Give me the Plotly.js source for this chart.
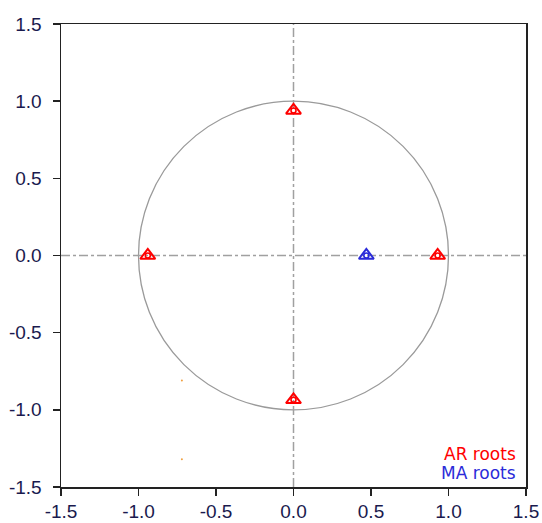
<!DOCTYPE html>
<html>
<head>
<meta charset="utf-8">
<script src="https://cdn.plot.ly/plotly-3.0.1.min.js"></script>
<style>html,body{margin:0;padding:0;background:#fff;}#chart{width:542px;height:523px;}</style>
</head>
<body>
<div id="chart"></div>
<script>
// Inverse roots
const arRootsX = [0.0, -0.94, 0.0, 0.93];
const arRootsY = [0.94, 0.0, -0.935, 0.0];
const maRootsX = [0.47];
const maRootsY = [0.0];
// two stray dots visible in the picture
const strayX = [-0.72, -0.72];
const strayY = [-0.81, -1.32];
const tickVals = [-1.5, -1.0, -0.5, 0.0, 0.5, 1.0, 1.5];
const tickText = ["-1.5", "-1.0", "-0.5", "0.0", "0.5", "1.0", "1.5"];
const seriesNames = ["AR roots", "MA roots"];
const seriesColors = ["#ff0000", "#2b2bd9"];

const traces = [
  {x: arRootsX, y: arRootsY, mode: 'markers', type: 'scatter', name: seriesNames[0],
   marker: {symbol: 'triangle-up-open', size: 13, color: seriesColors[0], line: {width: 2, color: seriesColors[0]}}},
  {x: arRootsX, y: arRootsY, mode: 'markers', type: 'scatter', showlegend: false, hoverinfo: 'skip',
   marker: {symbol: 'circle-open', size: 5, color: seriesColors[0], line: {width: 1.6, color: seriesColors[0]}}},
  {x: maRootsX, y: maRootsY, mode: 'markers', type: 'scatter', name: seriesNames[1],
   marker: {symbol: 'triangle-up-open', size: 13, color: seriesColors[1], line: {width: 2, color: seriesColors[1]}}},
  {x: maRootsX, y: maRootsY, mode: 'markers', type: 'scatter', showlegend: false, hoverinfo: 'skip',
   marker: {symbol: 'circle-open', size: 5, color: seriesColors[1], line: {width: 1.6, color: seriesColors[1]}}},
  {x: strayX, y: strayY, mode: 'markers', type: 'scatter', showlegend: false, hoverinfo: 'skip',
   marker: {symbol: 'circle', size: 2, color: '#f0a040'}}
];

const axisCommon = {
  range: [-1.5, 1.5], tickvals: tickVals, ticktext: tickText,
  showgrid: false, zeroline: false, showline: true, mirror: true,
  linecolor: '#222', linewidth: 1.5, ticks: 'outside', ticklen: 7, tickwidth: 1.5, tickcolor: '#222',
  tickfont: {family: 'Liberation Sans, Arial, sans-serif', size: 19, color: '#1a1a4e'}
};

const layout = {
  width: 542, height: 523,
  margin: {l: 61, r: 16, t: 24, b: 36},
  paper_bgcolor: '#fff', plot_bgcolor: '#fff',
  showlegend: false,
  xaxis: Object.assign({}, axisCommon, {ticklabelstandoff: 0}),
  yaxis: Object.assign({}, axisCommon, {ticklabelstandoff: 7}),
  shapes: [
    {type: 'circle', xref: 'x', yref: 'y', x0: -1, x1: 1, y0: -1, y1: 1, line: {color: '#9a9a9a', width: 1.3}, layer: 'below'},
    {type: 'line', xref: 'x', yref: 'y', x0: -1.5, x1: 1.5, y0: 0, y1: 0, line: {color: '#a0a0a0', width: 1.5, dash: 'dashdot'}, layer: 'below'},
    {type: 'line', xref: 'x', yref: 'y', x0: 0, x1: 0, y0: -1.5, y1: 1.5, line: {color: '#a0a0a0', width: 1.5, dash: 'dashdot'}, layer: 'below'}
  ],
  annotations: [
    {xref: 'paper', yref: 'paper', x: 0.982, y: 0.045, xanchor: 'right', yanchor: 'bottom', showarrow: false,
     text: seriesNames[0], font: {family: 'DejaVu Sans, Verdana, sans-serif', size: 17, color: seriesColors[0]}},
    {xref: 'paper', yref: 'paper', x: 0.982, y: 0.004, xanchor: 'right', yanchor: 'bottom', showarrow: false,
     text: seriesNames[1], font: {family: 'DejaVu Sans, Verdana, sans-serif', size: 17, color: seriesColors[1]}}
  ]
};

Plotly.newPlot('chart', traces, layout, {displayModeBar: false, staticPlot: true});
</script>
</body>
</html>
